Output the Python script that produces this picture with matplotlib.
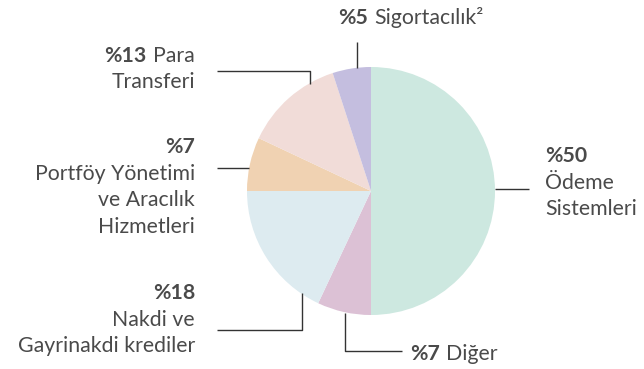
import matplotlib.pyplot as plt

# commission income breakdown (%), clockwise from the top
labels = ["Ödeme\nSistemleri", "Diğer", "Nakdi ve\nGayrinakdi krediler",
          "Portföy Yönetimi\nve Aracılık\nHizmetleri", "Para\nTransferi", "Sigortacılık²"]
shares = [50, 7, 18, 7, 13, 5]
colors = ["#cde8e0", "#dcc1d5", "#ddebf0", "#f0d2b2", "#f1dcd8", "#c4bedf"]

TXT = "#4a4a4a"
LINE = "#333333"
FS = 15.3
plt.rcParams['font.family'] = ['Lato', 'DejaVu Sans']

fig = plt.figure(figsize=(6.44, 3.69), dpi=100)
ax = fig.add_axes([0, 0, 1, 1])

# figure is laid out in pixel units, y pointing down
ax.pie(shares, colors=colors, startangle=-90, counterclock=True,
       center=(371, 191), radius=124, wedgeprops=dict(linewidth=0))
ax.set_xlim(0, 644)
ax.set_ylim(369, 0)
ax.axis('off')

fig.canvas.draw()
rend = fig.canvas.get_renderer()
inv = ax.transData.inverted()


def line(xs, ys):
    ax.plot(xs, ys, color=LINE, lw=1.0, solid_capstyle='butt')


def txt(x, y, s, ha='left', bold=False):
    return ax.text(x, y, s, ha=ha, va='baseline', fontsize=FS, color=TXT,
                   fontweight='bold' if bold else 'normal')


def pair_left(x, y, pct, name):
    # bold percentage followed by regular label
    t = txt(x, y, pct, bold=True)
    bb = t.get_window_extent(rend)
    x1 = inv.transform((bb.x1, bb.y0))[0]
    txt(x1 + 6, y, name)


def pair_right(x, y, pct, name):
    t = txt(x, y, name, ha='right')
    bb = t.get_window_extent(rend)
    x0 = inv.transform((bb.x0, bb.y0))[0]
    txt(x0 - 7, y, pct, ha='right', bold=True)


def stack(x, y, pct, name, ha):
    txt(x, y, pct, ha=ha, bold=True)
    for i, row in enumerate(name.split("\n")):
        txt(x, y + 26.7 * (i + 1), row, ha=ha)


# Sigortacılık
line([357, 357], [42, 68])
pair_left(338, 24, "%" + str(shares[5]), labels[5])

# Para Transferi
line([217, 310, 310], [71, 71, 84])
para = labels[4].split("\n")
pair_right(195, 62, "%" + str(shares[4]), para[0])
txt(195, 88, para[1], ha='right')

# Portföy Yönetimi
line([217, 249], [168, 168])
stack(195, 153, "%" + str(shares[3]), labels[3], 'right')

# Nakdi ve Gayrinakdi
line([217, 302, 302], [330, 330, 293])
stack(195, 299, "%" + str(shares[2]), labels[2], 'right')

# Diğer
line([345, 345, 402], [313, 351, 351])
pair_left(410, 360, "%" + str(shares[1]), labels[1])

# Ödeme Sistemleri
line([495, 529], [189, 189])
stack(545, 162, "%" + str(shares[0]), labels[0], 'left')

fig.savefig("out.png", dpi=100)
